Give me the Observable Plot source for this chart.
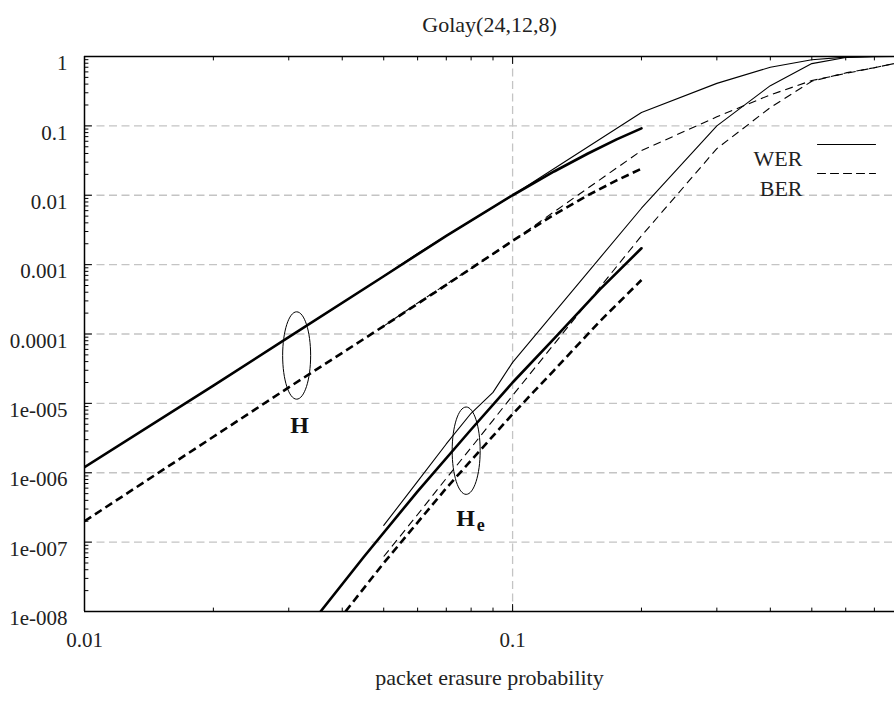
<!DOCTYPE html>
<html><head><meta charset="utf-8">
<script src="https://cdn.jsdelivr.net/npm/d3@7"></script>
<script src="https://cdn.jsdelivr.net/npm/@observablehq/plot@0.6"></script>
<style>html,body{margin:0;padding:0;background:#fff;overflow:hidden} svg text{font-family:'Liberation Serif', serif !important;}</style>
</head><body><div id="chart"></div>
<script>
// ---- text ----
const title = "Golay(24,12,8)";
const xLabel = "packet erasure probability";
const xTickValues = [0.01, 0.1];
const xTickLabels = ["0.01", "0.1"];
const yTickValues = [1, 0.1, 0.01, 0.001, 1e-4, 1e-5, 1e-6, 1e-7, 1e-8];
const yTickLabels = ["1", "0.1", "0.01", "0.001", "0.0001", "1e-005", "1e-006", "1e-007", "1e-008"];
const gridY = [0.1, 0.01, 0.001, 1e-4, 1e-5, 1e-6, 1e-7];
const gridX = [0.1];
const xMinorTicks = [0.02, 0.03, 0.04, 0.05, 0.06, 0.07, 0.08, 0.09, 0.2, 0.3, 0.4, 0.5, 0.6, 0.7];
const yMinorMultipliers = [2, 3, 4, 5, 6, 7, 8, 9];
const yMinorDecades = [1e-8, 1e-7, 1e-6, 1e-5, 1e-4, 1e-3, 1e-2, 1e-1];
const legendNames = ["WER", "BER"];

// ---- simulated curves (thin) ----
const simX      = [0.05, 0.06, 0.07, 0.08, 0.09, 0.1, 0.2, 0.3, 0.4, 0.5, 0.6, 0.7, 0.8];
const simH_WER  = [6.8e-4, 1.45e-3, 2.6e-3, 4.3e-3, 6.7e-3, 0.0100, 0.156, 0.41, 0.70, 0.90, 0.98, 1.0, 1.0];
const simH_BER  = [1.3e-4, 2.8e-4, 5.2e-4, 8.8e-4, 1.4e-3, 2.2e-3, 0.044, 0.135, 0.28, 0.45, 0.57, 0.69, 0.82];
const simHe_WER = [1.74e-7, 7.5e-7, 2.6e-6, 7.2e-6, 1.44e-5, 3.9e-5, 6.5e-3, 0.10, 0.38, 0.79, 0.97, 0.995, 1.0];
const simHe_BER = [6.2e-8, 2.5e-7, 8.3e-7, 2.3e-6, 5.7e-6, 1.3e-5, 2.6e-3, 0.047, 0.184, 0.44, 0.58, 0.69, 0.82];

// ---- analytic curves (thick) ----
const boundH_X    = [0.01, 0.02, 0.03, 0.05, 0.07, 0.1, 0.125, 0.15, 0.175, 0.2];
const boundH_WER  = [1.2e-6, 1.8e-5, 9.0e-5, 6.8e-4, 2.6e-3, 0.0100, 0.022, 0.040, 0.064, 0.092];
const boundH_BER  = [2.0e-7, 3.3e-6, 1.7e-5, 1.3e-4, 5.1e-4, 2.2e-3, 5.25e-3, 0.0100, 0.0164, 0.0241];
const boundHeW_X  = [0.0356, 0.045, 0.06, 0.08, 0.1, 0.125, 0.16, 0.2];
const boundHe_WER = [1e-8, 6.2e-8, 5.4e-7, 4.2e-6, 2.0e-5, 8.6e-5, 4.4e-4, 1.72e-3];
const boundHeB_X  = [0.0407, 0.05, 0.07, 0.1, 0.125, 0.16, 0.2];
const boundHe_BER = [1e-8, 5.0e-8, 6.0e-7, 7.0e-6, 3.0e-5, 1.53e-4, 6.0e-4];

// ---- annotations ----
const groupNames = ["H", "H"];
const groupEllipseX = [0.0313, 0.0779];
const groupEllipseY = [4.9e-5, 2.08e-6];
const groupLabelX = [0.0318, 0.0777];
const groupLabelY = [4.8e-6, 2.2e-7];

// ---- build tables ----
const zip = (xs, ys) => xs.map((x, i) => ({x, y: ys[i]}));
const yMinorTicks = yMinorDecades.flatMap(d => yMinorMultipliers.map(m => m * d));
const ellipses = groupNames.map((n, i) => ({x: groupEllipseX[i], y: groupEllipseY[i]}));
const groupLabels = groupNames.map((n, i) => ({x: groupLabelX[i], y: groupLabelY[i], t: n}));

const series = [
  {data: zip(boundH_X, boundH_WER), w: 2.6, dash: null},
  {data: zip(boundH_X, boundH_BER), w: 2.6, dash: "8,4.5"},
  {data: zip(boundHeW_X, boundHe_WER), w: 2.6, dash: null},
  {data: zip(boundHeB_X, boundHe_BER), w: 2.6, dash: "8,4.5"},
  {data: zip(simX, simH_WER), w: 1.1, dash: null},
  {data: zip(simX, simH_BER), w: 1.1, dash: "8,5"},
  {data: zip(simX, simHe_WER), w: 1.1, dash: null},
  {data: zip(simX, simHe_BER), w: 1.1, dash: "8,5"},
];

const lineShape = {draw(context, l) { context.moveTo(0, 0); context.lineTo(0, -l); }};
const ellipseSymbol = {
  draw(context, size) {
    const rx = Math.sqrt(size / Math.PI), ry = rx * 3.12, k = 0.5523;
    context.moveTo(rx, 0);
    context.bezierCurveTo(rx, ry * k, rx * k, ry, 0, ry);
    context.bezierCurveTo(-rx * k, ry, -rx, ry * k, -rx, 0);
    context.bezierCurveTo(-rx, -ry * k, -rx * k, -ry, 0, -ry);
    context.bezierCurveTo(rx * k, -ry, rx, -ry * k, rx, 0);
    context.closePath();
  }
};

const font = "Liberation Serif";
const gridStyle = {stroke: "#c4c4c4", strokeWidth: 1.3, strokeDasharray: "8,4.5"};
const txt = {fontFamily: font, fill: "#222"};

const chart = Plot.plot({
  width: 894,
  height: 702,
  marginLeft: 84,
  marginRight: 0,
  marginTop: 56,
  marginBottom: 91,
  style: {fontFamily: font, fontSize: "21px", background: "white", color: "black"},
  x: {type: "log", domain: [0.01, 0.78], axis: null},
  y: {type: "log", domain: [1e-8, 1], axis: null},
  marks: [
    Plot.ruleY(gridY, gridStyle),
    Plot.ruleX(gridX, gridStyle),
    ...series.map(s => Plot.line(s.data, {
      x: "x", y: "y", stroke: "black", strokeWidth: s.w,
      strokeDasharray: s.dash, strokeLinecap: s.dash ? "butt" : "round",
      strokeLinejoin: "round", clip: true
    })),
    // frame
    Plot.ruleY([1e-8], {stroke: "black", strokeWidth: 1.5}),
    Plot.ruleY([1], {stroke: "black", strokeWidth: 1.5}),
    Plot.ruleX([0.01], {stroke: "black", strokeWidth: 1.5}),
    // ticks (inward)
    Plot.vector(yTickValues, {y: d => d, frameAnchor: "left", rotate: 90, length: 7, anchor: "start", shape: lineShape, stroke: "black", strokeWidth: 1}),
    Plot.vector(yMinorTicks, {y: d => d, frameAnchor: "left", rotate: 90, length: 3.5, anchor: "start", shape: lineShape, stroke: "black", strokeWidth: 1}),
    Plot.vector(xTickValues, {x: d => d, frameAnchor: "bottom", rotate: 0, length: 7, anchor: "start", shape: lineShape, stroke: "black", strokeWidth: 1}),
    Plot.vector(xMinorTicks, {x: d => d, frameAnchor: "bottom", rotate: 0, length: 3.5, anchor: "start", shape: lineShape, stroke: "black", strokeWidth: 1}),
    Plot.vector(xTickValues, {x: d => d, frameAnchor: "top", rotate: 180, length: 7, anchor: "start", shape: lineShape, stroke: "black", strokeWidth: 1}),
    Plot.vector(xMinorTicks, {x: d => d, frameAnchor: "top", rotate: 180, length: 3.5, anchor: "start", shape: lineShape, stroke: "black", strokeWidth: 1}),
    // tick labels
    Plot.text(yTickValues, {...txt, y: d => d, text: (d, i) => yTickLabels[i], frameAnchor: "left", dx: -17, dy: 7, textAnchor: "end", fontSize: 21}),
    Plot.text(xTickValues, {...txt, x: d => d, text: (d, i) => xTickLabels[i], frameAnchor: "bottom", dy: 35, fontSize: 21}),
    // title and axis label
    Plot.text([title], {...txt, text: d => d, frameAnchor: "top", dy: -40, fontSize: 22}),
    Plot.text([xLabel], {...txt, text: d => d, frameAnchor: "bottom", dy: 73, fontSize: 22}),
    // group annotations
    Plot.dot(ellipses, {x: "x", y: "y", r: 14, symbol: ellipseSymbol, fill: "none", stroke: "black", strokeWidth: 1}),
    Plot.text(groupLabels, {...txt, x: "x", y: "y", text: "t", fontSize: 24, fontWeight: "bold", fill: "#111"}),
    Plot.text(groupLabels.slice(1), {...txt, x: "x", y: "y", text: () => "e", dx: 15, dy: 7, fontSize: 18, fontWeight: "bold", fill: "#111"}),
    // legend
    Plot.text([legendNames[0]], {...txt, text: d => d, frameAnchor: "top-right", dx: -92, dy: 94, textAnchor: "end", fontSize: 22}),
    Plot.text([legendNames[1]], {...txt, text: d => d, frameAnchor: "top-right", dx: -92, dy: 124, textAnchor: "end", fontSize: 22}),
    Plot.vector([0], {frameAnchor: "top-right", dx: -77, dy: 88, rotate: 90, length: 58, anchor: "start", shape: lineShape, stroke: "black", strokeWidth: 1.1}),
    Plot.vector([0], {frameAnchor: "top-right", dx: -77, dy: 117, rotate: 90, length: 58, anchor: "start", shape: lineShape, stroke: "black", strokeWidth: 1.1, strokeDasharray: "8,5"})
  ]
});
document.getElementById("chart").appendChild(chart);
</script>
</body></html>
